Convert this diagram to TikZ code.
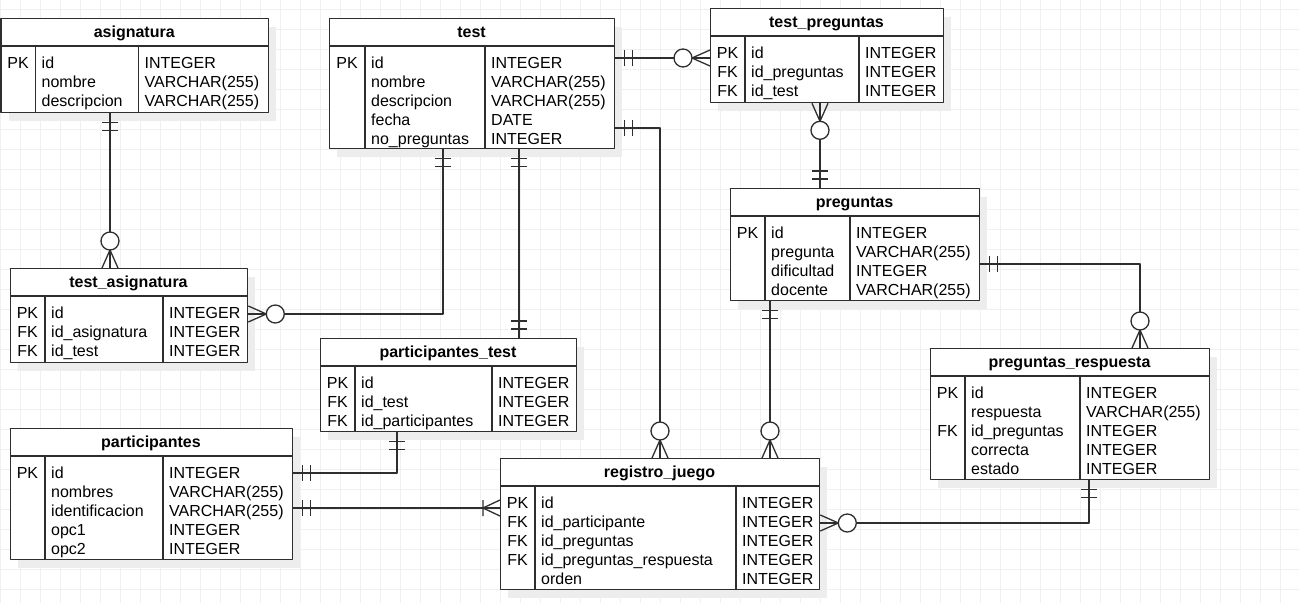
\documentclass[tikz,border=0pt]{standalone}
\usepackage{fontspec}
\setmainfont{Liberation Sans}
\usetikzlibrary{calc}

\tikzset{
  erline/.style={draw=black!82, line width=1.3pt, line join=round},
  tblbox/.style={erline, fill=white, rectangle, inner sep=0pt},
  tblshadow/.style={fill=black!7},
  gridline/.style={draw=black!6, line width=0.8pt},
  cell/.style={inner sep=0pt, font=\fontsize{16}{19}\selectfont},
  tbltitle/.style={inner sep=0pt, font=\fontsize{16}{19}\selectfont\bfseries},
  link/.style={erline},
}

% Entity table: name, left, top, width, height, key column width,
% offset of the type column, title, rows (key/field/type)
\newcommand{\erentity}[9]{%
  \fill[tblshadow] (#2+8,#3+9) rectangle ++(#4,#5);
  \node[tblbox, minimum width=#4pt, minimum height=#5pt, anchor=north west] (#1) at (#2,#3) {};
  \draw[erline] (#2,#3+28) -- ++(#4,0);
  \draw[erline] (#2+#6,#3+28) -- (#2+#6,#3+#5);
  \draw[erline] (#2+#7,#3+28) -- (#2+#7,#3+#5);
  \node[tbltitle, anchor=base] (#1-title) at (#2+#4/2,#3+19.5) {#8};
  \foreach \rk/\rn/\rt [count=\i] in {#9} {
    \node[cell, anchor=base] (#1-k\i) at (#2+#6/2, #3+50+19*\i-19) {\rk};
    \node[cell, anchor=base west] (#1-n\i) at (#2+#6+6, #3+50+19*\i-19) {\rn};
    \node[cell, anchor=base west] (#1-t\i) at (#2+#7+6, #3+50+19*\i-19) {\rt};
  }%
}

% Cardinality marks, drawn at a connector end; angle points away from the table
\newcommand{\markone}[2]{%
  \begin{scope}[shift={(#1)}, rotate=#2]
    \draw[erline] (9,-8) -- (9,8) (17,-8) -- (17,8);
  \end{scope}}
\newcommand{\markzeromany}[2]{%
  \begin{scope}[shift={(#1)}, rotate=#2]
    \draw[erline] (0,-8) -- (18,0) -- (0,8) (0,0) -- (18,0);
    \draw[erline, fill=white] (27,0) circle (9);
  \end{scope}}
\newcommand{\markonemany}[2]{%
  \begin{scope}[shift={(#1)}, rotate=#2]
    \draw[erline] (0,-8) -- (17,0) -- (0,8) (17,-8) -- (17,8);
  \end{scope}}

\begin{document}
\begin{tikzpicture}[x=1pt, y=-1pt]
\useasboundingbox (0,0) rectangle (1299,603);
\fill[white] (0,0) rectangle (1299,603);

% background grid
\foreach \gx in {0.7,20.7,...,1299} \draw[gridline] (\gx,0) -- (\gx,603);
\foreach \gy in {9.5,29.5,...,603} \draw[gridline] (0,\gy) -- (1299,\gy);

% tables
\erentity{asignatura}{0.5}{18}{267.5}{94}{35}{138}{asignatura}%
  {PK/id/INTEGER, /nombre/VARCHAR(255), /descripcion/VARCHAR(255)}
\erentity{test}{329}{18}{285}{130}{36}{156}{test}%
  {PK/id/INTEGER, /nombre/VARCHAR(255), /descripcion/VARCHAR(255), /fecha/DATE, /no\_preguntas/INTEGER}
\erentity{test-preguntas}{710}{8}{233}{94}{35}{149}{test\_preguntas}%
  {PK/id/INTEGER, FK/id\_preguntas/INTEGER, FK/id\_test/INTEGER}
\erentity{preguntas}{730}{188}{249}{112}{35}{120}{preguntas}%
  {PK/id/INTEGER, /pregunta/VARCHAR(255), /dificultad/INTEGER, /docente/VARCHAR(255)}
\erentity{preguntas-respuesta}{930}{348}{279}{131}{35}{150}{preguntas\_respuesta}%
  {PK/id/INTEGER, /respuesta/VARCHAR(255), FK/id\_preguntas/INTEGER, /correcta/INTEGER, /estado/INTEGER}
\erentity{test-asignatura}{10}{268}{237}{94}{35}{153}{test\_asignatura}%
  {PK/id/INTEGER, FK/id\_asignatura/INTEGER, FK/id\_test/INTEGER}
\erentity{participantes-test}{320}{338}{256}{93}{35}{172}{participantes\_test}%
  {PK/id/INTEGER, FK/id\_test/INTEGER, FK/id\_participantes/INTEGER}
\erentity{participantes}{10}{428}{282}{131}{35}{153}{participantes}%
  {PK/id/INTEGER, /nombres/VARCHAR(255), /identificacion/VARCHAR(255), /opc1/INTEGER, /opc2/INTEGER}
\erentity{registro-juego}{500}{458}{319}{131}{35}{236}{registro\_juego}%
  {PK/id/INTEGER, FK/id\_participante/INTEGER, FK/id\_preguntas/INTEGER, FK/id\_preguntas\_respuesta/INTEGER, /orden/INTEGER}

% connector end points
\coordinate (A1) at ($(asignatura.south west)+(109.5,0)$);
\coordinate (A2) at (A1 |- test-asignatura.north);
\coordinate (B1) at ($(test.south west)+(114,0)$);
\coordinate (B2) at ($(test-asignatura.north east)+(0,46)$);
\coordinate (C1) at ($(test.south west)+(190,0)$);
\coordinate (C2) at (C1 |- participantes-test.north);
\coordinate (D1) at ($(test.north east)+(0,40)$);
\coordinate (D2) at (D1 -| test-preguntas.west);
\coordinate (E1) at ($(test.north east)+(0,110)$);
\coordinate (E2) at ($(registro-juego.north west)+(160,0)$);
\coordinate (F1) at ($(test-preguntas.south west)+(110,0)$);
\coordinate (F2) at (F1 |- preguntas.north);
\coordinate (G1) at ($(preguntas.north east)+(0,76)$);
\coordinate (G2) at ($(preguntas-respuesta.north west)+(210,0)$);
\coordinate (H1) at ($(preguntas.south west)+(40,0)$);
\coordinate (H2) at (H1 |- registro-juego.north);
\coordinate (I1) at ($(preguntas-respuesta.south west)+(159,0)$);
\coordinate (I2) at ($(registro-juego.north east)+(0,65)$);
\coordinate (J1) at ($(participantes-test.south west)+(77,0)$);
\coordinate (J2) at ($(participantes.north east)+(0,45)$);
\coordinate (K1) at ($(participantes.north east)+(0,80)$);
\coordinate (K2) at (K1 -| registro-juego.west);

% relationships
\draw[link] (A1) -- (A2);
\draw[link] (B1) |- (B2);
\draw[link] (C1) -- (C2);
\draw[link] (D1) -- (D2);
\draw[link] (E1) -| (E2);
\draw[link] (F1) -- (F2);
\draw[link] (G1) -| (G2);
\draw[link] (H1) -- (H2);
\draw[link] (I1) |- (I2);
\draw[link] (J1) |- (J2);
\draw[link] (K1) -- (K2);

% cardinalities
\markone{A1}{-90}      \markzeromany{A2}{90}
\markone{B1}{-90}      \markzeromany{B2}{0}
\markone{C1}{-90}      \markone{C2}{90}
\markone{D1}{0}        \markzeromany{D2}{180}
\markone{E1}{0}        \markzeromany{E2}{90}
\markzeromany{F1}{-90} \markone{F2}{90}
\markone{G1}{0}        \markzeromany{G2}{90}
\markone{H1}{-90}      \markzeromany{H2}{90}
\markone{I1}{-90}      \markzeromany{I2}{0}
\markone{J1}{-90}      \markone{J2}{0}
\markone{K1}{0}        \markonemany{K2}{180}
\end{tikzpicture}
\end{document}
